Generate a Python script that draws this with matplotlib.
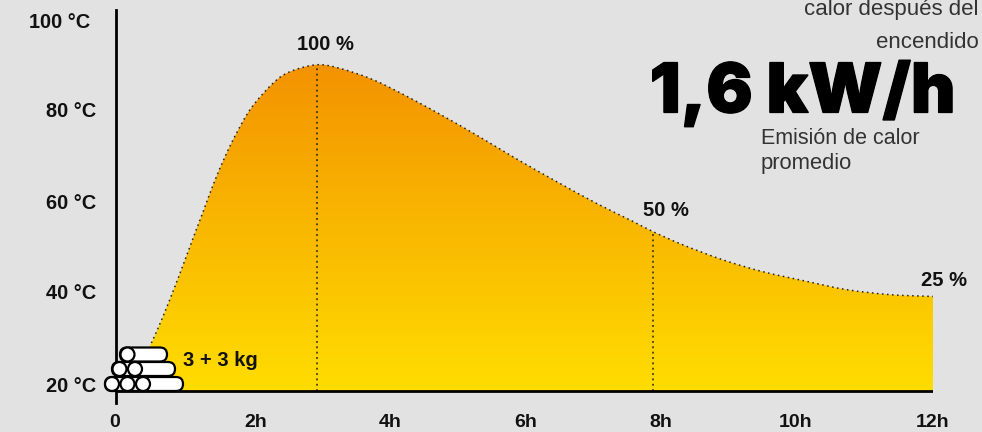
import numpy as np
import matplotlib
matplotlib.use("Agg")
import matplotlib.pyplot as plt
import matplotlib.patheffects as pe
from matplotlib.colors import LinearSegmentedColormap
from matplotlib.patches import PathPatch, Circle, FancyBboxPatch
from matplotlib.path import Path
from matplotlib.transforms import ScaledTranslation

plt.rcParams['font.family'] = ['Liberation Sans', 'DejaVu Sans']

hours = [0, .28, .52, .69, .92, 1.14, 1.28, 1.43, 1.60, 1.77, 1.99, 2.31, 2.56, 2.95, 3.29,
         3.78, 4.32, 4.86, 5.35, 5.89, 6.47, 7.06, 7.60, 7.89, 8.33, 8.92, 9.51, 10.15,
         10.73, 11.37, 12.0]
temps = [18.7, 22.5, 29.2, 35, 43.7, 52.5, 58, 64, 70, 75.2, 80.8, 86.2, 88.7, 90.2, 89.4,
         86.9, 82.9, 78.5, 74.3, 69.5, 64.6, 59.8, 55.8, 53.6, 50.7, 47.4, 44.8, 42.7,
         40.9, 39.8, 39.4]
x_ticks = [0, 2, 4, 6, 8, 10, 12]
x_labels = ['0', '2h', '4h', '6h', '8h', '10h', '12h']
y_ticks = [20, 40, 60, 80, 100]
y_labels = ['20 °C', '40 °C', '60 °C', '80 °C', '100 °C']
drop_hours = [2.95, 7.89]
drop_temps = [90.2, 53.6]
pct_labels = ['100 %', '50 %', '25 %']
BASE = 18.7

W, H = 982, 432
BG = '#e2e2e2'
fig = plt.figure(figsize=(W / 100, H / 100), dpi=100, facecolor=BG)
ax = fig.add_axes([116 / W, 1 - 403 / H, (933 - 116) / W, (403 - 10) / H], facecolor='none')
XLIM, YLIM = (0, 12), (16.05, 102.2)


def smooth_vertices(xs, ys):
    """Bezier segments through the read points (same idea as a chart's smooth line)."""
    xs, ys = np.asarray(xs, float), np.asarray(ys, float)
    pts = np.column_stack([xs, ys])
    tang = np.zeros_like(pts)
    tang[1:-1] = (pts[2:] - pts[:-2]) / 2
    tang[0] = pts[1] - pts[0]
    tang[-1] = pts[-1] - pts[-2]
    verts, codes = [pts[0]], [Path.MOVETO]
    for i in range(len(pts) - 1):
        verts += [pts[i] + tang[i] / 3, pts[i + 1] - tang[i + 1] / 3, pts[i + 1]]
        codes += [Path.CURVE4] * 3
    return verts, codes


cmap = LinearSegmentedColormap.from_list('heat', ['#ffdd00', '#f39200'])
im = ax.imshow(np.linspace(0, 1, 256)[:, None], extent=[0, 12, BASE, max(temps)],
               origin='lower', aspect='auto', cmap=cmap, zorder=1)
v, c = smooth_vertices(hours, temps)
clip = PathPatch(Path(v + [(12, BASE), (0, BASE), (0, BASE)],
                      c + [Path.LINETO, Path.LINETO, Path.CLOSEPOLY]),
                 transform=ax.transData, facecolor='none', edgecolor='none')
ax.add_patch(clip)
im.set_clip_path(clip)
ax.set_xlim(*XLIM)
ax.set_ylim(*YLIM)

v2, c2 = smooth_vertices(hours[2:], temps[2:])
ax.add_patch(PathPatch(Path(v2, c2), facecolor='none', edgecolor='#222222', lw=1.1,
                       ls=(0, (1, 2.3)), zorder=3))
ax.vlines(drop_hours, BASE, drop_temps, color='#222222', lw=1.1, linestyles=[(0, (1.2, 2.3))], zorder=3)
ax.plot([0, 12], [BASE, BASE], color='black', lw=2, zorder=4, solid_capstyle='butt')

for s in ['top', 'right', 'bottom']:
    ax.spines[s].set_visible(False)
ax.spines['left'].set_linewidth(2)
ax.spines['left'].set_color('black')
ax.set_xticks(x_ticks, x_labels, fontsize=14, fontweight='bold', color='#111111')
ax.set_yticks(y_ticks, y_labels, fontsize=14.4, fontweight='bold', color='#111111')
ax.tick_params(axis='both', length=0)
ax.tick_params(axis='x', pad=8)
ax.tick_params(axis='y', pad=14.4)
for lab, dx in zip(ax.get_xticklabels(), [-1, 4, 2, 1.5, 0, -1, 0]):
    lab.set_transform(lab.get_transform() + ScaledTranslation(dx / 100, 0, fig.dpi_scale_trans))
for lab, dy in zip(ax.get_yticklabels(), [0, 2, 1, 2, 0]):
    lab.set_transform(lab.get_transform() + ScaledTranslation(0, dy / 100, fig.dpi_scale_trans))
top_lab = ax.get_yticklabels()[-1]
top_lab.set_transform(top_lab.get_transform() + ScaledTranslation(-6 / 100, 0, fig.dpi_scale_trans))

ov = fig.add_axes([0, 0, 1, 1], facecolor='none')
ov.set_xlim(0, W)
ov.set_ylim(H, 0)
ov.axis('off')


def label(x, y, s, ha='center', size=14.5, weight='bold', color='#111111', va='center', **kw):
    return ov.text(x, y, s, ha=ha, va=va, fontsize=size, fontweight=weight, color=color, **kw)


label(325, 45, pct_labels[0])
label(666, 211, pct_labels[1])
label(944, 280, pct_labels[2])
label(183, 360, '3 + 3 kg', ha='left')
label(979, 9, 'calor después del', ha='right', size=16, weight='normal', color='#333333')
label(979, 42, 'encendido', ha='right', size=16, weight='normal', color='#333333')
label(761, 138, 'Emisión de calor', ha='left', size=15.5, weight='normal', color='#333333')
label(761, 163, 'promedio', ha='left', size=15.8, weight='normal', color='#333333')
big = label(802.5, 112.5, '1,6 kW/h', size=49.5, color='black', va='baseline',
            family=['Inter', 'Liberation Sans'])
big.set_fontweight(900)
big.set_path_effects([pe.withStroke(linewidth=0.9, foreground='black', joinstyle='miter')])

R = 7
for top, left, right, circles in [
    (377, 105, 183, [112, 127.5, 143]),
    (362, 112, 175, [119.5, 135]),
    (347.5, 120, 167, [127.5]),
]:
    ov.add_patch(FancyBboxPatch((left, top), right - left, 2 * R,
                                boxstyle=f'round,pad=0,rounding_size={R}',
                                facecolor='white', edgecolor='black', lw=1.6, zorder=5))
    for cx in circles:
        ov.add_patch(Circle((cx, top + R), R, facecolor='white', edgecolor='black', lw=1.6, zorder=6))

fig.savefig('out.png', dpi=100, facecolor=BG)
